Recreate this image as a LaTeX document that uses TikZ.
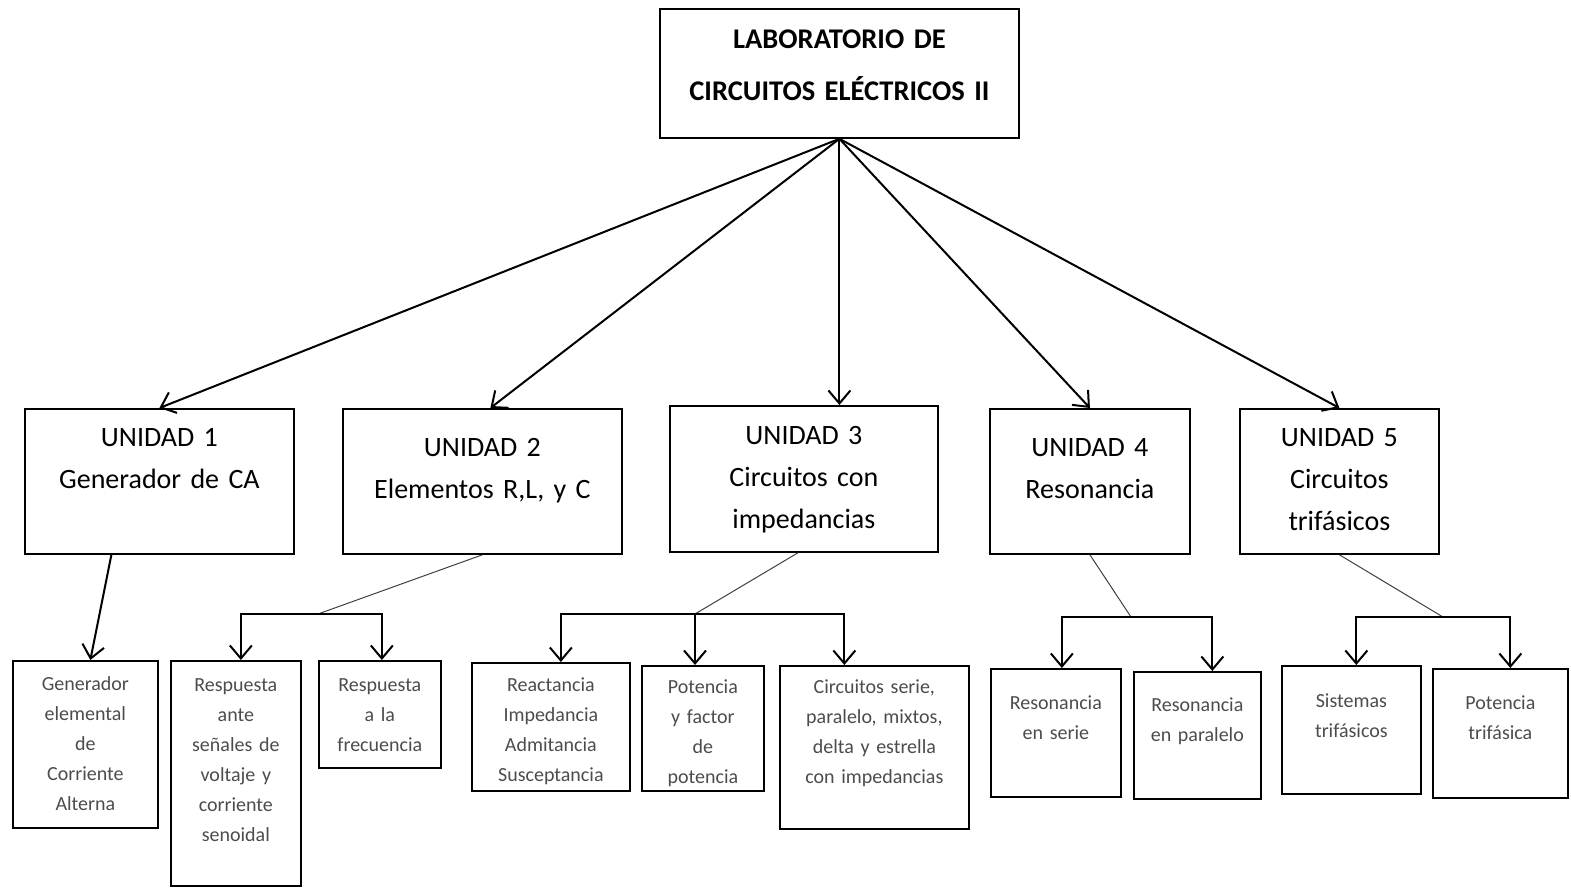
\documentclass[tikz,border=0pt]{standalone}
\usepackage{fontspec}
\setmainfont{Carlito}
\usetikzlibrary{arrows.meta}

\tikzset{
  box/.style={draw, line width=1.8pt, anchor=north west, inner sep=0pt, align=center},
  titlebox/.style={box, font=\fontsize{28.5}{52}\selectfont\bfseries},
  unit/.style={box, font=\fontsize{28}{42}\selectfont},
  leaf/.style={box, line width=1.7pt, text=black!70, font=\fontsize{20}{30}\selectfont},
  arr/.style={line width=2pt, -{Straight Barb[length=13pt,width=22pt]}},
  link/.style={line width=1pt, black!75},
}

\begin{document}
\begin{tikzpicture}[x=1pt,y=-1pt]

      \useasboundingbox (0,0) rectangle (1571,888);

      % top
      \node[titlebox, text width=359pt, text height=40pt, text depth=89pt] (lab) at (659,8)
        {LABORATORIO DE\\CIRCUITOS EL\'ECTRICOS II};

      % units
      \node[unit, text width=269pt, text height=38pt, text depth=107pt] (u1) at (24,408)
        {UNIDAD 1\\Generador de CA};
      \node[unit, text width=279pt, text height=48pt, text depth=97pt] (u2) at (342,408)
        {UNIDAD 2\\Elementos R,L, y C};
      \node[unit, text width=268pt, text height=39pt, text depth=107pt] (u3) at (669,405)
        {UNIDAD 3\\Circuitos con\\impedancias};
      \node[unit, text width=200pt, text height=48pt, text depth=97pt] (u4) at (989,408)
        {UNIDAD 4\\Resonancia};
      \node[unit, text width=199pt, text height=38pt, text depth=107pt] (u5) at (1239,408)
        {UNIDAD 5\\Circuitos\\trif\'asicos};

      \draw[arr] (lab.south) -- (u1.north);
      \draw[arr] (lab.south) -- ([xshift=8pt]u2.north);
      \draw[arr] (lab.south) -- (lab.south |- u3.north);
      \draw[arr] (lab.south) -- (u4.north);
      \draw[arr] (lab.south) -- (u5.north);

      % unit 1
      \node[leaf, text width=145pt, text height=30pt, text depth=137pt] (g1) at (12,660)
        {Generador\\elemental\\de\\Corriente\\Alterna};
      \draw[arr] ([xshift=-48pt]u1.south) -- ([xshift=5pt]g1.north);

      % unit 2
      \node[leaf, text width=130pt, text height=31pt, text depth=194pt] (r1) at (170,660)
        {Respuesta\\ante\\se\~nales de\\voltaje y\\corriente\\senoidal};
      \node[leaf, text width=122pt, text height=31pt, text depth=76pt] (r2) at (318,660)
        {Respuesta\\a la\\frecuencia};
      \coordinate (j2) at (318,614);
      \draw[link] (u2.south) -- (j2);
      \draw[arr] (j2) -| ([xshift=5pt]r1.north);
      \draw[arr] (j2) -| ([xshift=2pt]r2.north);

      % unit 3
      \node[leaf, text width=158pt, text height=29pt, text depth=99pt] (c1) at (471,662)
        {Reactancia\\Impedancia\\Admitancia\\Susceptancia};
      \node[leaf, text width=122pt, text height=28pt, text depth=97pt] (c2) at (641,665)
        {Potencia\\y factor\\de\\potencia};
      \node[leaf, text width=189pt, text height=28pt, text depth=135pt] (c3) at (779,665)
        {Circuitos serie,\\paralelo, mixtos,\\delta y estrella\\con impedancias};
      \coordinate (j3) at (695,614);
      \draw[link] ([xshift=-6pt]u3.south) -- (j3);
      \draw[arr] (j3) -| ([xshift=10pt]c1.north);
      \draw[arr] (j3) -- (j3 |- c2.north);
      \draw[arr] (j3) -| ([xshift=-30pt]c3.north);

      % unit 4
      \node[leaf, text width=130pt, text height=41pt, text depth=87pt] (d1) at (990,668)
        {Resonancia\\en serie};
      \node[leaf, text width=127pt, text height=40pt, text depth=87pt] (d2) at (1133,671)
        {Resonancia\\en paralelo};
      \coordinate (j4) at (1131,617);
      \draw[link] (u4.south) -- (j4);
      \draw[arr] (j4) -| ([xshift=6pt]d1.north);
      \draw[arr] (j4) -| ([xshift=15pt]d2.north);

      % unit 5
      \node[leaf, text width=139pt, text height=42pt, text depth=86pt] (e1) at (1281,665)
        {Sistemas\\trif\'asicos};
      \node[leaf, text width=135pt, text height=41pt, text depth=88pt] (e2) at (1432,668)
        {Potencia\\trif\'asica};
      \coordinate (j5) at (1443,617);
      \draw[link] (u5.south) -- (j5);
      \draw[arr] (j5) -| ([xshift=5pt]e1.north);
      \draw[arr] (j5) -| ([xshift=10pt]e2.north);

    \end{tikzpicture}
\end{document}
